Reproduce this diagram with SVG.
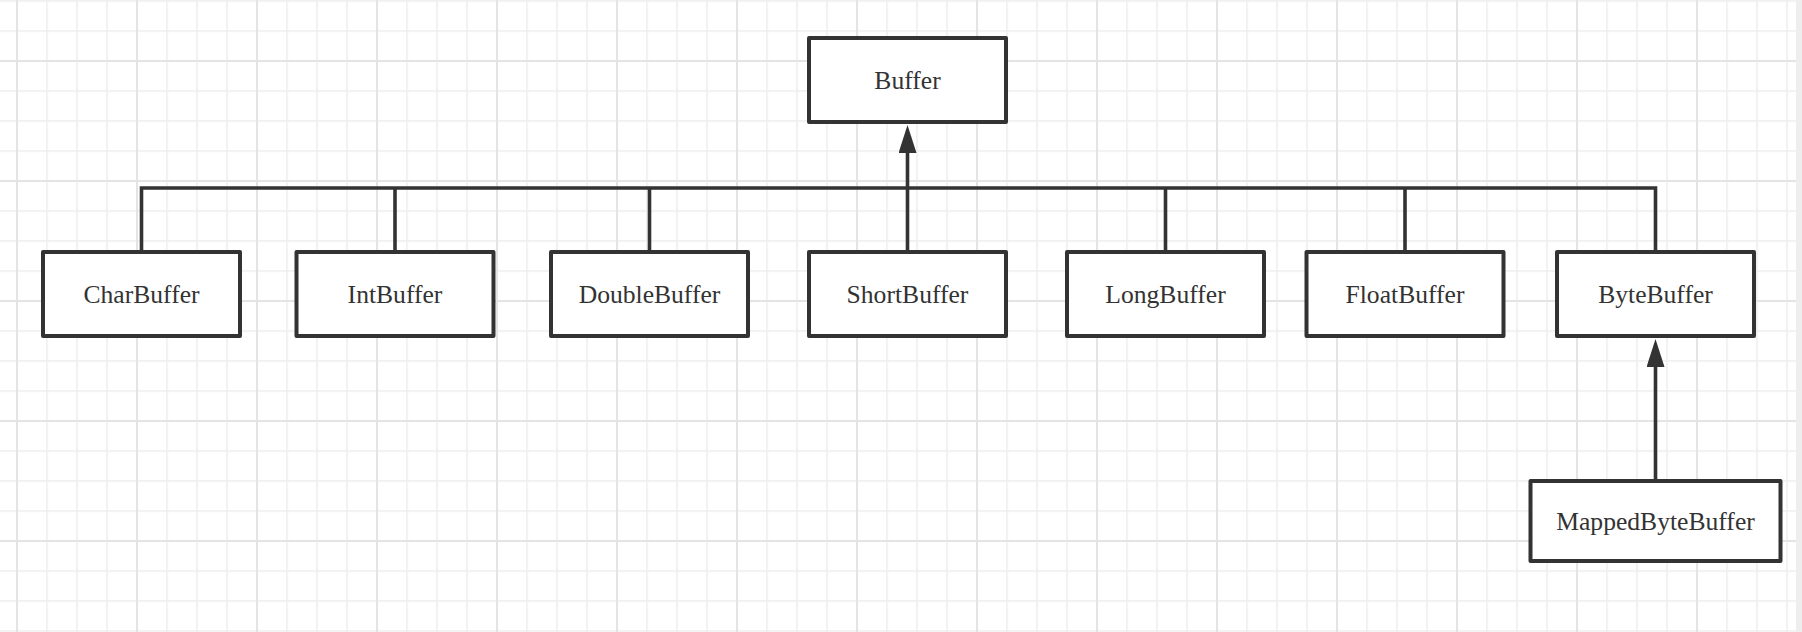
<svg xmlns="http://www.w3.org/2000/svg" width="1802" height="632" viewBox="0 0 1802 632">
  <style>
    .box { fill: #ffffff; stroke: #333333; stroke-width: 4; stroke-linejoin: round; }
    .lbl { font-family: "Liberation Serif", "Times New Roman", serif; font-size: 25.6px; fill: #333333; text-anchor: middle; }
    .conn { fill: none; stroke: #333333; stroke-width: 3.6; stroke-linejoin: miter; }
  </style>
  <defs>
    <pattern id="minorGrid" x="16.2" y="0.2" width="30" height="30" patternUnits="userSpaceOnUse">
      <rect x="0" y="0" width="1.6" height="30" fill="#eeeeee"/>
      <rect x="0" y="0" width="30" height="1.6" fill="#eeeeee"/>
    </pattern>
    <pattern id="majorGrid" x="16" y="60" width="120" height="120" patternUnits="userSpaceOnUse">
      <rect x="0" y="0" width="2" height="120" fill="#e4e4e4"/>
      <rect x="0" y="0" width="120" height="2" fill="#e4e4e4"/>
    </pattern>
    <marker id="arrow" viewBox="0 0 28 18" refX="0" refY="9" markerWidth="28" markerHeight="18" markerUnits="userSpaceOnUse" orient="auto">
      <path d="M0 0 L28 9 L0 18 Z" fill="#333333"/>
    </marker>
  </defs>

  <g id="background">
    <rect x="0" y="0" width="1802" height="632" fill="#ffffff"/>
    <rect x="0" y="0" width="1802" height="632" fill="url(#minorGrid)"/>
    <rect x="0" y="0" width="1802" height="632" fill="url(#majorGrid)"/>
    <rect x="1796" y="0" width="6" height="632" fill="#eeeeee"/>
  </g>

  <g id="connectors">
    <path class="conn" d="M141.5 250 V188 H1655.5 V250"/>
    <path class="conn" d="M395 250 V188"/>
    <path class="conn" d="M649.5 250 V188"/>
    <path class="conn" d="M1165.5 250 V188"/>
    <path class="conn" d="M1405 250 V188"/>
    <path class="conn" d="M907.5 250 V153" marker-end="url(#arrow)"/>
    <path class="conn" d="M1655.5 479 V367" marker-end="url(#arrow)"/>
  </g>

  <g id="node-buffer">
    <rect class="box" x="809" y="38" width="197" height="84"/>
    <text class="lbl" x="907.5" y="88.5">Buffer</text>
  </g>
  <g id="node-charbuffer">
    <rect class="box" x="43" y="252" width="197" height="84"/>
    <text class="lbl" x="141.5" y="302.5">CharBuffer</text>
  </g>
  <g id="node-intbuffer">
    <rect class="box" x="296.5" y="252" width="197" height="84"/>
    <text class="lbl" x="395" y="302.5">IntBuffer</text>
  </g>
  <g id="node-doublebuffer">
    <rect class="box" x="551" y="252" width="197" height="84"/>
    <text class="lbl" x="649.5" y="302.5">DoubleBuffer</text>
  </g>
  <g id="node-shortbuffer">
    <rect class="box" x="809" y="252" width="197" height="84"/>
    <text class="lbl" x="907.5" y="302.5">ShortBuffer</text>
  </g>
  <g id="node-longbuffer">
    <rect class="box" x="1067" y="252" width="197" height="84"/>
    <text class="lbl" x="1165.5" y="302.5">LongBuffer</text>
  </g>
  <g id="node-floatbuffer">
    <rect class="box" x="1306.5" y="252" width="197" height="84"/>
    <text class="lbl" x="1405" y="302.5">FloatBuffer</text>
  </g>
  <g id="node-bytebuffer">
    <rect class="box" x="1557" y="252" width="197" height="84"/>
    <text class="lbl" x="1655.5" y="302.5">ByteBuffer</text>
  </g>
  <g id="node-mappedbytebuffer">
    <rect class="box" x="1530.5" y="481" width="250" height="80"/>
    <text class="lbl" x="1655.5" y="529.5">MappedByteBuffer</text>
  </g>
</svg>
